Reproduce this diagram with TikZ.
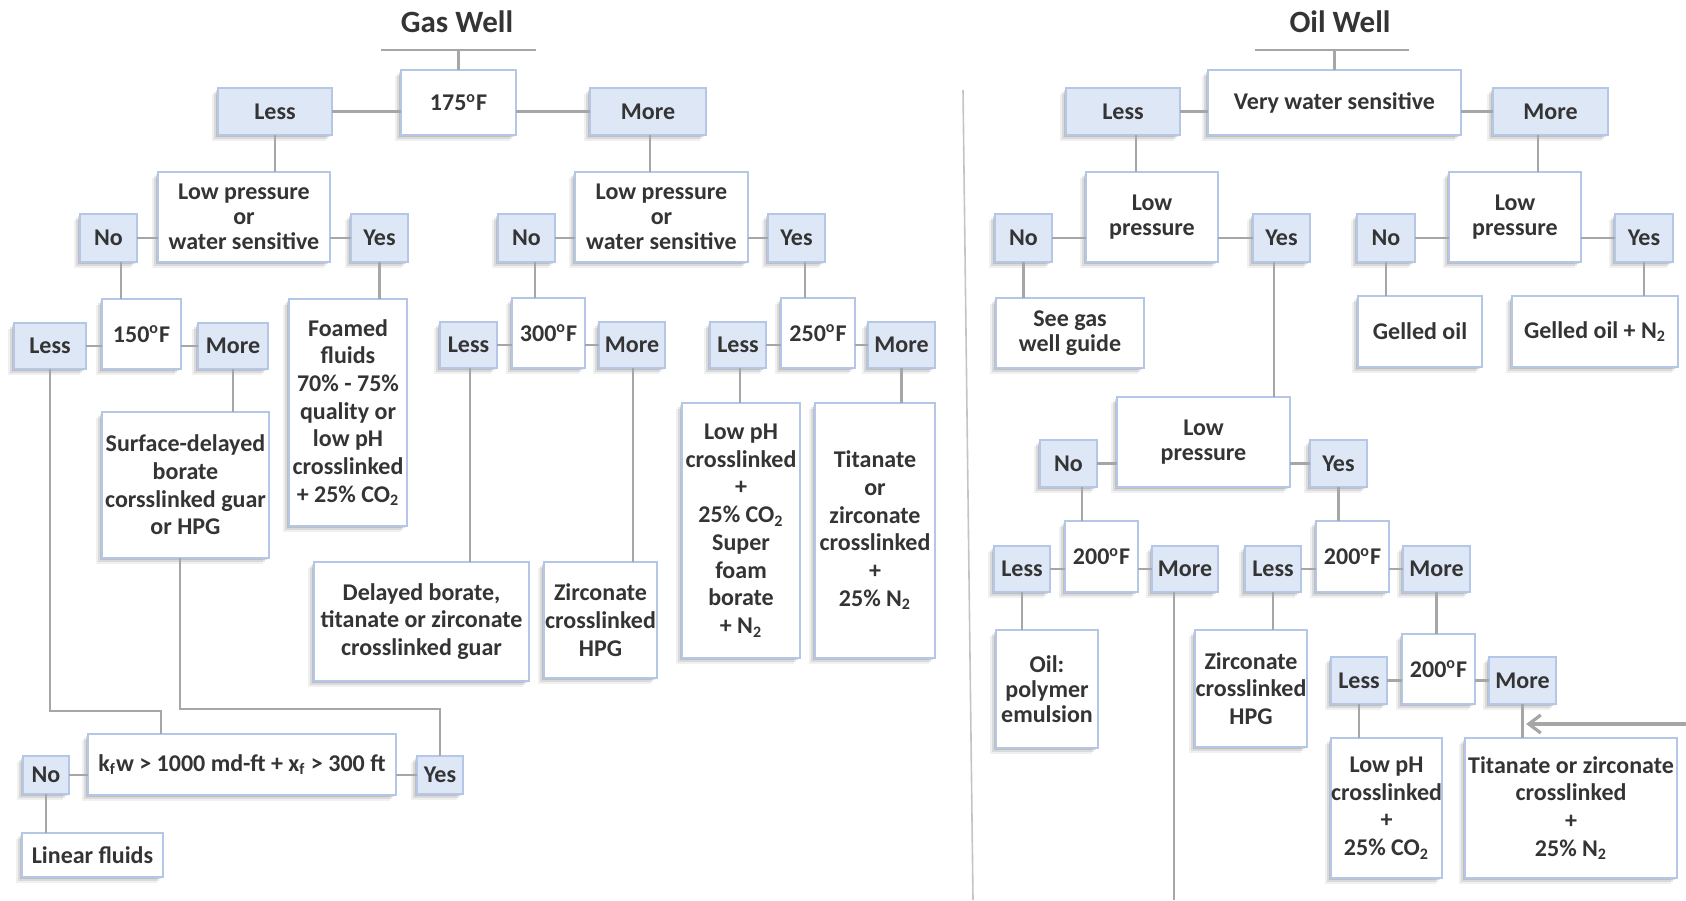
\documentclass[tikz,border=0pt]{standalone}
\usepackage{fontspec}
\setmainfont{Carlito}
\usetikzlibrary{shadows,arrows.meta,calc}
\definecolor{bxline}{RGB}{180,199,231}
\definecolor{bxfill}{RGB}{222,231,246}
\definecolor{cn}{RGB}{166,166,166}
\definecolor{tx}{RGB}{52,52,52}
\definecolor{dv}{RGB}{196,196,196}
\newcommand\bxfont{\fontsize{12}{13.85}\selectfont\bfseries}
\newcommand\tgfont{\fontsize{12}{12.4}\selectfont\bfseries}
\newcommand\vconn[3]{\draw[conn] ($(#1.south)+(#3,0)$) -- ($(#1.south |- #2.north)+(#3,0)$);}
\newcommand\hconnL[2]{\draw[conn] (#1.east) -- (#1.east -| #2.west);}
\newcommand\hconnR[2]{\draw[conn] (#1.west) -- (#1.west -| #2.east);}
\tikzset{
 shd/.style={drop shadow={shadow xshift=-3pt,shadow yshift=-3pt,opacity=0.06,fill=black},
             drop shadow={shadow xshift=-2pt,shadow yshift=-2pt,opacity=0.09,fill=black},
             drop shadow={shadow xshift=-1pt,shadow yshift=-1pt,opacity=0.12,fill=black}},
 wbox/.style={shd, draw=bxline, fill=white, line width=0.6pt, inner sep=0pt, outer sep=0pt, align=center, font=\bxfont, text=tx},
 bbox/.style={wbox, fill=bxfill},
 tightbox/.style={wbox, font=\tgfont},
 conn/.style={draw=cn, line width=1.4pt},
 ttl/.style={font=\fontsize{15.5}{18}\selectfont\bfseries, text=tx},
}
\begin{document}
\begin{tikzpicture}[x=0.5pt,y=-0.5pt]
\useasboundingbox (0,0) rectangle (1686,900);
% ---------------- Gas well ----------------
\node[ttl] (gtitle) at (457,22) {Gas Well};
\node[wbox, minimum width=57.5pt, minimum height=32.5pt] (g175) at (458.5,102.5) {175\textsuperscript{o}F};
\node[bbox, minimum width=57pt, minimum height=23.5pt] (gLess) at (275,111.5) {Less};
\node[bbox, minimum width=58pt, minimum height=23.5pt] (gMore) at (648,111.5) {More};
\node[tightbox, minimum width=86pt, minimum height=45pt] (gLP1) at (244,217) {Low pressure\\or\\water sensitive};
\node[bbox, minimum width=28.5pt, minimum height=24pt] (gNo1) at (108.5,238) {No};
\node[bbox, minimum width=28.5pt, minimum height=24pt] (gYes1) at (379.5,238) {Yes};
\node[wbox, minimum width=39.5pt, minimum height=35pt] (g150) at (141.5,334) {150\textsuperscript{o}F};
\node[bbox, minimum width=36pt, minimum height=23pt] (gLess150) at (50,346) {Less};
\node[bbox, minimum width=35pt, minimum height=23pt] (gMore150) at (233,346) {More};
\node[wbox, minimum width=83.5pt, minimum height=73pt] (gSurf) at (185.5,485) {Surface-delayed\\borate\\corsslinked guar\\or HPG};
\node[wbox, minimum width=59pt, minimum height=113.5pt] (gFoam) at (348,412.5) {Foamed\\fluids\\70\% - 75\%\\quality or\\low pH\\crosslinked\\+ 25\% CO\textsubscript{2}};
\node[tightbox, minimum width=86.5pt, minimum height=45pt] (gLP2) at (661.5,217) {Low pressure\\or\\water sensitive};
\node[bbox, minimum width=28.5pt, minimum height=24pt] (gNo2) at (526.5,238) {No};
\node[bbox, minimum width=28.5pt, minimum height=24pt] (gYes2) at (796.5,238) {Yes};
\node[wbox, minimum width=36.5pt, minimum height=35pt] (g300) at (548.5,333) {300\textsuperscript{o}F};
\node[bbox, minimum width=28.5pt, minimum height=23pt] (gLess300) at (468.5,345) {Less};
\node[bbox, minimum width=33pt, minimum height=23pt] (gMore300) at (632,345) {More};
\node[wbox, minimum width=37pt, minimum height=35pt] (g250) at (818,333) {250\textsuperscript{o}F};
\node[bbox, minimum width=28pt, minimum height=23pt] (gLess250) at (738,345) {Less};
\node[bbox, minimum width=33.5pt, minimum height=23pt] (gMore250) at (901.5,345) {More};
\node[wbox, minimum width=107.5pt, minimum height=59.5pt] (gDelayed) at (421.5,621.5) {Delayed borate,\\titanate or zirconate\\crosslinked guar};
\node[wbox, minimum width=56.5pt, minimum height=58pt] (gZirc) at (600.5,620) {Zirconate\\crosslinked\\HPG};
\node[wbox, minimum width=59pt, minimum height=127.5pt] (gLowpH) at (741,530.5) {Low pH\\crosslinked\\+\\25\% CO\textsubscript{2}\\Super\\foam\\borate\\+ N\textsubscript{2}};
\node[wbox, minimum width=60pt, minimum height=127.5pt] (gTitan) at (875,530.5) {Titanate\\or\\zirconate\\crosslinked\\+\\25\% N\textsubscript{2}};
\node[wbox, minimum width=154pt, minimum height=30.5pt] (gKfw) at (242,764.5) {k\textsubscript{f}w > 1000 md-ft + x\textsubscript{f} > 300 ft};
\node[bbox, minimum width=23pt, minimum height=19pt] (gNo3) at (46,775) {No};
\node[bbox, minimum width=23pt, minimum height=19pt] (gYes3) at (440,775) {Yes};
\node[wbox, minimum width=70.5pt, minimum height=22pt] (gLinear) at (92.5,855) {Linear fluids};
% gas connectors
\coordinate (gbarL) at (381,50);
\coordinate (gbarR) at (536,50);
\draw[conn] (gbarL) -- (gbarR);
\draw[conn] (g175.north |- gbarL) -- (g175.north);
\hconnL{gLess}{g175}
\hconnR{gMore}{g175}
\vconn{gLess}{gLP1}{0pt}
\vconn{gMore}{gLP2}{1pt}
\hconnL{gNo1}{gLP1}
\hconnR{gYes1}{gLP1}
\hconnL{gNo2}{gLP2}
\hconnR{gYes2}{gLP2}
\vconn{gNo1}{g150}{6.25pt}
\vconn{gYes1}{gFoam}{0pt}
\vconn{gNo2}{g300}{4.25pt}
\vconn{gYes2}{g250}{4.25pt}
\hconnL{gLess150}{g150}
\hconnR{gMore150}{g150}
\hconnL{gLess300}{g300}
\hconnR{gMore300}{g300}
\hconnL{gLess250}{g250}
\hconnR{gMore250}{g250}
\vconn{gMore150}{gSurf}{0pt}
\vconn{gLess300}{gDelayed}{0.75pt}
\vconn{gMore300}{gZirc}{0.5pt}
\vconn{gLess250}{gLowpH}{1pt}
\vconn{gMore250}{gTitan}{0pt}
\coordinate (j1) at (161,711);
\coordinate (j2) at (440,709);
\draw[conn] (gLess150.south) |- (j1) -- (j1 |- gKfw.north);
\draw[conn] ($(gSurf.south)+(-2.75pt,0)$) |- (j2) -- (j2 |- gYes3.north);
\hconnL{gNo3}{gKfw}
\hconnR{gYes3}{gKfw}
\vconn{gNo3}{gLinear}{0pt}
% divider
\coordinate (divT) at (963,90);
\coordinate (divB) at (973,900);
\draw[dv, line width=0.8pt] (divT) -- (divB);
% ---------------- Oil well ----------------
\node[ttl] (otitle) at (1340,22) {Oil Well};
\node[wbox, minimum width=126.5pt, minimum height=32.5pt] (oVWS) at (1334.5,102.5) {Very water sensitive};
\node[bbox, minimum width=57pt, minimum height=23.5pt] (oLess) at (1123,111.5) {Less};
\node[bbox, minimum width=57.5pt, minimum height=23.5pt] (oMore) at (1550.5,111.5) {More};
\node[tightbox, minimum width=66pt, minimum height=45pt] (oLP1) at (1152,217) {Low\\pressure};
\node[bbox, minimum width=28.5pt, minimum height=24pt] (oNo1) at (1023.5,238) {No};
\node[bbox, minimum width=28.5pt, minimum height=24pt] (oYes1) at (1281.5,238) {Yes};
\node[tightbox, minimum width=74pt, minimum height=35pt] (oSee) at (1070,333) {See gas\\well guide};
\node[tightbox, minimum width=66pt, minimum height=45pt] (oLP2) at (1515,217) {Low\\pressure};
\node[bbox, minimum width=29pt, minimum height=24pt] (oNo2) at (1386,238) {No};
\node[bbox, minimum width=29pt, minimum height=24pt] (oYes2) at (1644,238) {Yes};
\node[wbox, minimum width=62pt, minimum height=35.5pt] (oGelled) at (1420,331.5) {Gelled oil};
\node[wbox, minimum width=83pt, minimum height=35.5pt] (oGelledN) at (1595,331.5) {Gelled oil + N\textsubscript{2}};
\node[tightbox, minimum width=86.5pt, minimum height=45pt] (oLP3) at (1203.5,442) {Low\\pressure};
\node[bbox, minimum width=28.5pt, minimum height=23.5pt] (oNo3) at (1068.5,463.5) {No};
\node[bbox, minimum width=28.5pt, minimum height=23.5pt] (oYes3) at (1338.5,463.5) {Yes};
\node[wbox, minimum width=36.5pt, minimum height=35.5pt] (o200A) at (1101.5,556.5) {200\textsuperscript{o}F};
\node[bbox, minimum width=28pt, minimum height=23pt] (oLessA) at (1022,569) {Less};
\node[bbox, minimum width=33pt, minimum height=23pt] (oMoreA) at (1185,569) {More};
\node[tightbox, minimum width=51pt, minimum height=59pt] (oOilPoly) at (1047,689) {Oil:\\polymer\\emulsion};
\node[wbox, minimum width=36.5pt, minimum height=35.5pt] (o200B) at (1352.5,556.5) {200\textsuperscript{o}F};
\node[bbox, minimum width=28pt, minimum height=23pt] (oLessB) at (1273,569) {Less};
\node[bbox, minimum width=33.5pt, minimum height=23pt] (oMoreB) at (1436.5,569) {More};
\node[wbox, minimum width=56pt, minimum height=58.5pt] (oZirc) at (1251,688.5) {Zirconate\\crosslinked\\HPG};
\node[wbox, minimum width=36.5pt, minimum height=35pt] (o200C) at (1438.5,669) {200\textsuperscript{o}F};
\node[bbox, minimum width=28pt, minimum height=23.5pt] (oLessC) at (1359,680.5) {Less};
\node[bbox, minimum width=33.5pt, minimum height=23.5pt] (oMoreC) at (1522.5,680.5) {More};
\node[wbox, minimum width=55.5pt, minimum height=70pt] (oLowpH) at (1386.5,808) {Low pH\\crosslinked\\+\\25\% CO\textsubscript{2}};
\node[wbox, minimum width=106pt, minimum height=70pt] (oTitan) at (1571,808) {Titanate or zirconate\\crosslinked\\+\\25\% N\textsubscript{2}};
% oil connectors
\coordinate (obarL) at (1255,50);
\coordinate (obarR) at (1409,50);
\draw[conn] (obarL) -- (obarR);
\draw[conn] (oVWS.north |- obarL) -- (oVWS.north);
\hconnL{oLess}{oVWS}
\hconnR{oMore}{oVWS}
\vconn{oLess}{oLP1}{6.5pt}
\vconn{oMore}{oLP2}{-6.25pt}
\hconnL{oNo1}{oLP1}
\hconnR{oYes1}{oLP1}
\hconnL{oNo2}{oLP2}
\hconnR{oYes2}{oLP2}
\vconn{oNo1}{oSee}{0pt}
\vconn{oYes1}{oLP3}{-3.75pt}
\vconn{oNo2}{oGelled}{0pt}
\vconn{oYes2}{oGelledN}{0pt}
\hconnL{oNo3}{oLP3}
\hconnR{oYes3}{oLP3}
\vconn{oNo3}{o200A}{6.75pt}
\vconn{oYes3}{o200B}{0pt}
\hconnL{oLessA}{o200A}
\hconnR{oMoreA}{o200A}
\hconnL{oLessB}{o200B}
\hconnR{oMoreB}{o200B}
\vconn{oLessA}{oOilPoly}{0pt}
\coordinate (obot) at (1174,900);
\draw[conn] ($(oMoreA.south)+(-5.5pt,0)$) -- (obot);
\vconn{oLessB}{oZirc}{0pt}
\vconn{oMoreB}{o200C}{0pt}
\hconnL{oLessC}{o200C}
\hconnR{oMoreC}{o200C}
\vconn{oLessC}{oLowpH}{0pt}
\vconn{oMoreC}{oTitan}{0pt}
\coordinate (aS) at (1686,724);
\draw[conn, line width=1.6pt, -{Straight Barb[length=6pt,width=9pt]}] (aS) -- ($(aS -| oMoreC.south)+(1.8pt,0)$);
\end{tikzpicture}
\end{document}
